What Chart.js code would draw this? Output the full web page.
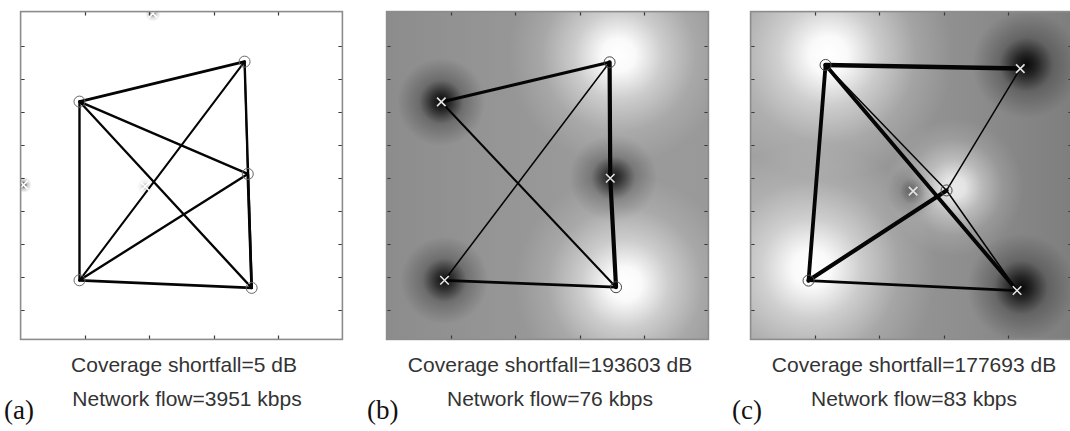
<!DOCTYPE html>
<html>
<head>
<meta charset="utf-8">
<script src="https://cdn.jsdelivr.net/npm/chart.js@4.4.1/dist/chart.umd.min.js"></script>
<style>
  html, body { margin: 0; padding: 0; background: #fff; width: 1070px; height: 431px; overflow: hidden; }
  .panel { position: absolute; top: 4px; width: 337px; height: 343px; }
  .cap { position: absolute; width: 400px; text-align: center; font-family: "Liberation Sans", Arial, sans-serif;
         font-size: 21px; color: #333; line-height: 24px; white-space: nowrap; }
  .tag { position: absolute; font-family: "Liberation Serif", "Times New Roman", serif; font-size: 27px;
         color: #111; line-height: 30px; }
</style>
</head>
<body>
<div class="panel" id="pa" style="left:13px"><canvas id="ca" width="337" height="343"></canvas></div>
<div class="panel" id="pb" style="left:379px"><canvas id="cb" width="337" height="343"></canvas></div>
<div class="panel" id="pc" style="left:743px"><canvas id="cc" width="337" height="343"></canvas></div>

<div class="cap" style="left:-16px; top:353px">Coverage shortfall=5 dB</div>
<div class="cap" style="left:-13px; top:387px">Network flow=3951 kbps</div>
<div class="tag" style="left:4px; top:395px">(a)</div>

<div class="cap" style="left:350px; top:353px">Coverage shortfall=193603 dB</div>
<div class="cap" style="left:350px; top:387px">Network flow=76 kbps</div>
<div class="tag" style="left:367px; top:395px">(b)</div>

<div class="cap" style="left:714px; top:353px">Coverage shortfall=177693 dB</div>
<div class="cap" style="left:714px; top:387px">Network flow=83 kbps</div>
<div class="tag" style="left:732px; top:395px">(c)</div>

<script>
// ---- axis ticks (metres) ----
const X_TICKS = [200, 400, 600, 800];
const Y_TICKS = [100, 200, 300, 400, 500, 600, 700, 800, 900];

// ---- (a) node layout, roles and link flows ----
const A_NODE_X = [183, 696, 706, 183, 718, 387, 9, 411];
const A_NODE_Y = [732, 853, 513, 191, 168, 475, 480, 999];
const A_NODE_ROLE = ['relay', 'relay', 'relay', 'relay', 'relay', 'user', 'user', 'user'];
const A_LINKS = [[0, 1], [0, 2], [0, 3], [0, 4], [1, 3], [1, 4], [1, 2], [2, 4], [2, 3], [3, 4]];
const A_LINK_FLOW = [6, 5, 5, 4.5, 4, 5, 3, 6, 5, 6];

// ---- (b) ----
const B_NODE_X = [170, 693, 695, 180, 713];
const B_NODE_Y = [731, 851, 500, 191, 170];
const B_NODE_ROLE = ['user', 'relay', 'user', 'user', 'relay'];
const B_LINKS = [[0, 1], [0, 4], [1, 3], [1, 2], [2, 4], [3, 4]];
const B_LINK_FLOW = [7, 4, 2.5, 10, 10, 6];

// ---- (c) ----
const C_NODE_X = [233, 838, 609, 505, 180, 828];
const C_NODE_Y = [843, 832, 463, 461, 190, 160];
const C_NODE_ROLE = ['relay', 'user', 'relay', 'user', 'relay', 'user'];
const C_LINKS = [[0, 1], [0, 4], [0, 5], [0, 2], [2, 5], [2, 1], [4, 2], [4, 5]];
const C_LINK_FLOW = [11, 9, 9, 2.5, 2.5, 2.5, 10, 6];

// per-node strength of the coverage map (1 = full)
const A_FIELD = [0, 0, 0, 0, 0, 0.3, 0.85, 0.6];
const B_FIELD = [1, 1, 0.9, 0.95, 1];
const C_FIELD = [1, 1, 0.8, 0.6, 1, 1];

// coverage field drawn under the links
const fieldPlugin = {
  id: 'field',
  beforeDatasetsDraw(chart, args, opts) {
    const { ctx, chartArea: a, scales } = chart;
    ctx.save();
    ctx.beginPath();
    ctx.rect(a.left, a.top, a.right - a.left, a.bottom - a.top);
    ctx.clip();
    if (opts.base) {
      const g = ctx.createLinearGradient(a.left, 0, a.right, 0);
      opts.base.forEach((c, i) => g.addColorStop(i / (opts.base.length - 1), c));
      ctx.fillStyle = g;
    } else {
      ctx.fillStyle = '#fff';
    }
    ctx.fillRect(a.left, a.top, a.right - a.left, a.bottom - a.top);
    const nodes = opts.nodes;
    // dark halos first, bright halos on top
    ['user', 'relay'].forEach(kind => {
      nodes.x.forEach((vx, i) => {
        if (nodes.role[i] !== kind) return;
        const s = nodes.field[i];
        if (!s) return;
        const cx = scales.x.getPixelForValue(vx) + (opts.shift ? opts.shift[i][0] : 0);
        const cy = scales.y.getPixelForValue(nodes.y[i]) + (opts.shift ? opts.shift[i][1] : 0);
        const R = (kind === 'relay' ? opts.brightR : opts.darkR) * (opts.scaleR ? opts.scaleR[i] : 1);
        const g = ctx.createRadialGradient(cx, cy, 0, cx, cy, R);
        if (kind === 'relay') {
          g.addColorStop(0, `rgba(255,255,255,${s})`);
          g.addColorStop(0.15, `rgba(255,255,255,${0.95 * s})`);
          g.addColorStop(0.4, `rgba(255,255,255,${0.5 * s})`);
          g.addColorStop(0.7, `rgba(255,255,255,${0.15 * s})`);
          g.addColorStop(1, 'rgba(255,255,255,0)');
        } else {
          g.addColorStop(0, `rgba(0,0,0,${0.95 * s})`);
          g.addColorStop(0.2, `rgba(0,0,0,${0.72 * s})`);
          g.addColorStop(0.5, `rgba(0,0,0,${0.25 * s})`);
          g.addColorStop(1, 'rgba(0,0,0,0)');
        }
        ctx.fillStyle = g;
        ctx.fillRect(cx - R, cy - R, 2 * R, 2 * R);
      });
    });
    ctx.restore();
  }
};

// box outline with inward tick marks on all four sides
const framePlugin = {
  id: 'frame',
  afterDatasetsDraw(chart) {
    const { ctx, chartArea: a, scales } = chart;
    ctx.save();
    ctx.strokeStyle = '#3a3a3a';
    ctx.lineWidth = 1.2;
    ctx.beginPath();
    X_TICKS.forEach(v => {
      const px = Math.round(scales.x.getPixelForValue(v)) + 0.5;
      ctx.moveTo(px, a.top); ctx.lineTo(px, a.top + 4);
      ctx.moveTo(px, a.bottom); ctx.lineTo(px, a.bottom - 4);
    });
    Y_TICKS.forEach(v => {
      const py = Math.round(scales.y.getPixelForValue(v)) + 0.5;
      ctx.moveTo(a.left, py); ctx.lineTo(a.left + 4, py);
      ctx.moveTo(a.right, py); ctx.lineTo(a.right - 4, py);
    });
    ctx.stroke();
    ctx.strokeStyle = '#8c8c8c';
    ctx.lineWidth = 1.6;
    ctx.strokeRect(a.left, a.top, a.right - a.left, a.bottom - a.top);
    ctx.restore();
  }
};

function buildPanel(canvasId, nx, ny, roles, links, flows, field, fieldOpts, look) {
  const relays = [], users = [];
  nx.forEach((x, i) => {
    if (roles[i] === 'relay') relays.push({ x, y: ny[i] });
    else users.push({ x, y: ny[i] });
  });
  const datasets = [
    { data: users, pointStyle: 'crossRot', pointRadius: 6, pointBorderWidth: 1.6,
      pointBorderColor: look.cross, pointBackgroundColor: 'transparent', showLine: false, order: 0 },
    { data: relays, pointStyle: 'circle', pointRadius: 5.5, pointBorderWidth: 1,
      pointBorderColor: look.circle, pointBackgroundColor: 'transparent', showLine: false, order: 0 }
  ];
  links.forEach(([i, j], k) => {
    datasets.push({
      data: [{ x: nx[i], y: ny[i] }, { x: nx[j], y: ny[j] }],
      showLine: true, borderColor: '#050505', borderWidth: 0.6 + flows[k] * 0.36,
      borderCapStyle: 'round', pointRadius: 0, order: 1
    });
  });
  return new Chart(document.getElementById(canvasId), {
    type: 'scatter',
    data: { datasets },
    options: {
      responsive: false, animation: false, devicePixelRatio: 1,
      layout: { padding: 2 },
      events: [],
      plugins: {
        legend: { display: false }, tooltip: { enabled: false },
        field: Object.assign({ nodes: { x: nx, y: ny, role: roles, field } }, fieldOpts)
      },
      scales: {
        x: { type: 'linear', min: 0, max: 1000, display: false },
        y: { type: 'linear', min: 12, max: 1004.5, display: false }
      }
    },
    plugins: [fieldPlugin, framePlugin]
  });
}

buildPanel('ca', A_NODE_X, A_NODE_Y, A_NODE_ROLE, A_LINKS, A_LINK_FLOW, A_FIELD,
  { base: null, brightR: 0, darkR: 8 }, { cross: '#ffffff', circle: '#666' });

buildPanel('cb', B_NODE_X, B_NODE_Y, B_NODE_ROLE, B_LINKS, B_LINK_FLOW, B_FIELD,
  { base: ['#8c8c8c', '#959595', '#9b9b9b', '#999999'], brightR: 110, darkR: 44,
    shift: [[0, 0], [9, -7], [3, 0], [0, 0], [9, -3]] }, { cross: '#e4e4e4', circle: '#444' });

buildPanel('cc', C_NODE_X, C_NODE_Y, C_NODE_ROLE, C_LINKS, C_LINK_FLOW, C_FIELD,
  { base: ['#a2a2a2', '#9a9a9a', '#8e8e8e', '#7e7e7e'], brightR: 125, darkR: 54,
    shift: [[3, -10], [6, -4], [8, -3], [0, 0], [3, -12], [4, -3]],
    scaleR: [1, 1, 0.55, 0.5, 1, 1] }, { cross: '#e4e4e4', circle: '#444' });
</script>
</body>
</html>
